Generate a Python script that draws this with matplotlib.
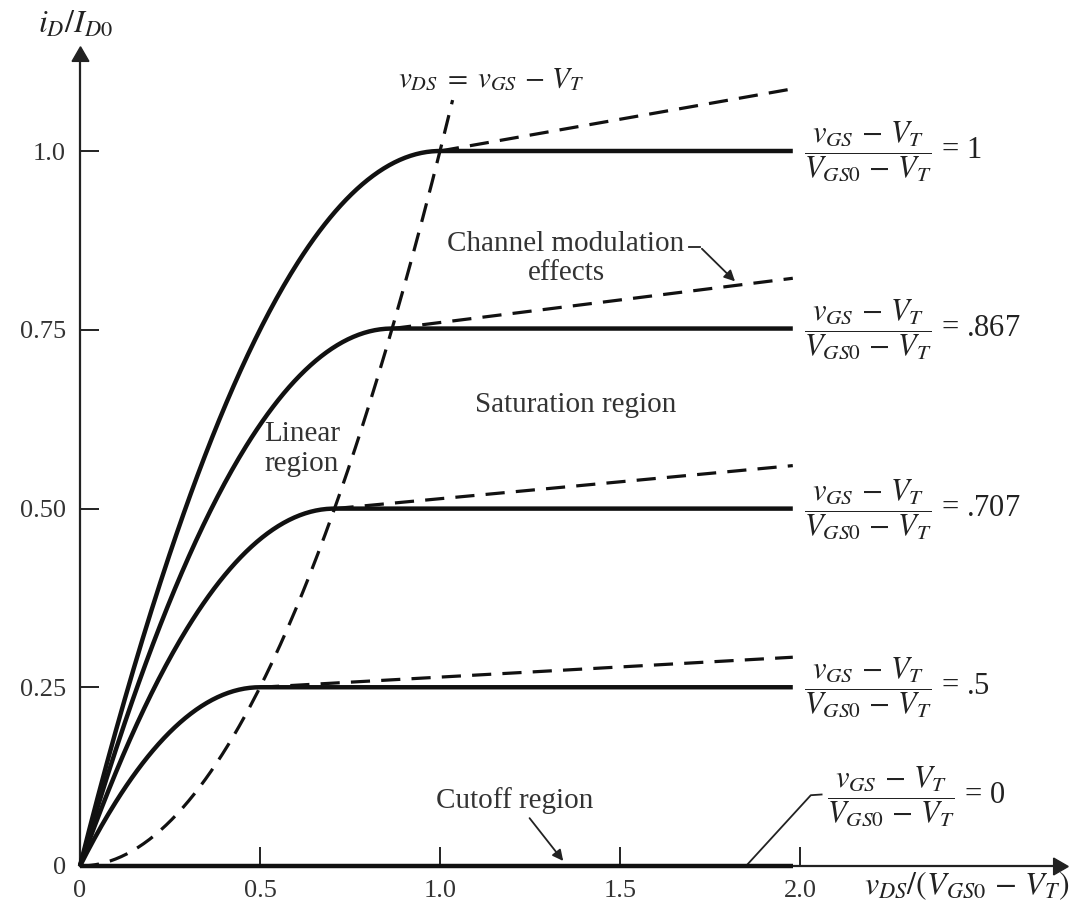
import numpy as np
import matplotlib
matplotlib.use("Agg")
import matplotlib.pyplot as plt

plt.rcParams["font.family"] = ["Liberation Serif", "DejaVu Serif"]
plt.rcParams["mathtext.fontset"] = "stix"

# Normalised gate overdrive (v_GS - V_T)/(V_GS0 - V_T) for each curve
overdrive = [1.0, 0.867, 0.707, 0.5, 0.0]
overdrive_labels = ["1", ".867", ".707", ".5", "0"]
# Current reached by each channel-length-modulation line at v_DS = 2.0
clm_end_current = [1.087, 0.822, 0.56, 0.292]

x_ticks = [0, 0.5, 1.0, 1.5, 2.0]
x_tick_labels = ["0", "0.5", "1.0", "1.5", "2.0"]
y_ticks = [0, 0.25, 0.5, 0.75, 1.0]
y_tick_labels = ["0", "0.25", "0.50", "0.75", "1.0"]

V_END = 1.98
LOCUS_END = 1.035

fig = plt.figure(figsize=(10.84, 9.07), dpi=100)
ax = fig.add_axes([80 / 1084, 41 / 907, 978 / 1084, 810 / 907])
ax.set_xlim(0, 978 / 360)
ax.set_ylim(0, 810 / 715)

for s in ["top", "right"]:
    ax.spines[s].set_visible(False)
for s in ["left", "bottom"]:
    ax.spines[s].set_linewidth(1.6)
    ax.spines[s].set_color("#222222")

# arrow heads on the axes
ax.plot(1, 0, marker=(3, 0, -90), ms=14, color="#222222", transform=ax.transAxes, clip_on=False)
ax.plot(0, 1, marker=(3, 0, 0), ms=14, color="#222222", transform=ax.transAxes, clip_on=False)

ax.set_xticks(x_ticks, x_tick_labels)
ax.set_yticks(y_ticks, y_tick_labels)
ax.tick_params(direction="in", length=14, width=1.4, labelsize=19, color="#222222", labelcolor="#333333")
ax.tick_params(axis="x", pad=10)
ax.tick_params(axis="y", pad=10)

ink = "#111111"
dash = (0, (6, 3.5))

# output characteristics: square law below pinch-off, flat in saturation
for k in overdrive:
    v = np.linspace(0, V_END, 400)
    i = np.where(v < k, 2 * k * v - v ** 2, k ** 2)
    ax.plot(v, i, color=ink, lw=3.2, solid_capstyle="butt", clip_on=False, zorder=3)

# channel-length modulation (dashed continuation in saturation)
for k, i_end in zip(overdrive[:-1], clm_end_current):
    ax.plot([k, V_END], [k ** 2, i_end], color=ink, lw=2.3, ls=dash, zorder=2)

# boundary between linear and saturation regions: v_DS = v_GS - V_T
vl = np.linspace(0, LOCUS_END, 200)
ax.plot(vl, vl ** 2, color=ink, lw=2.3, ls=dash, zorder=2)

# curve parameter labels
frac = r"$\dfrac{v_{GS}\,-\,V_T}{V_{GS0}\,-\,V_T}$"
for k, lab in zip(overdrive[:-1], overdrive_labels[:-1]):
    ax.text(2.012, k ** 2, frac + " = " + lab,
            ha="left", va="center", fontsize=22, color="#222222")
ax.text(2.075, 0.098, frac + " = " + overdrive_labels[-1],
        ha="left", va="center", fontsize=22, color="#222222")
ax.plot([1.85, 2.03, 2.06], [0.0, 0.099, 0.10], color="#222222", lw=1.3, clip_on=False)

# axis titles
fig.text(75 / 1084, 1 - 25 / 907, r"$i_D/I_{D0}$", ha="center", va="center", fontsize=23, color="#222222")
fig.text(967 / 1084, 1 - 886 / 907, r"$v_{DS}/(V_{GS0}\,-\,V_T)$", ha="center", va="center",
         fontsize=23, color="#222222")

# region annotations
ax.text(1.142, 1.10, r"$v_{DS}\;=\;v_{GS}\,-\,V_T$", ha="center", va="center", fontsize=21, color="#222222")
ax.text(0.617, 0.583, "Linear\nregion", ha="center", va="center", fontsize=21,
        color="#333333", linespacing=1.2)
ax.text(1.378, 0.645, "Saturation region", ha="center", va="center", fontsize=21, color="#333333")
ax.text(1.35, 0.849, "Channel modulation\neffects", ha="center", va="center", fontsize=21,
        color="#333333", linespacing=1.15)
ax.plot([1.692, 1.722], [0.866, 0.866], color="#222222", lw=1.3)
ax.annotate("", xy=(1.825, 0.815), xytext=(1.722, 0.866),
            arrowprops=dict(arrowstyle="-|>", color="#222222", lw=1.3, mutation_scale=16))
ax.text(1.208, 0.092, "Cutoff region", ha="center", va="center", fontsize=21, color="#333333")
ax.annotate("", xy=(1.347, 0.004), xytext=(1.244, 0.07),
            arrowprops=dict(arrowstyle="-|>", color="#222222", lw=1.3, mutation_scale=16))

fig.savefig("out.png", dpi=100, facecolor="white")
